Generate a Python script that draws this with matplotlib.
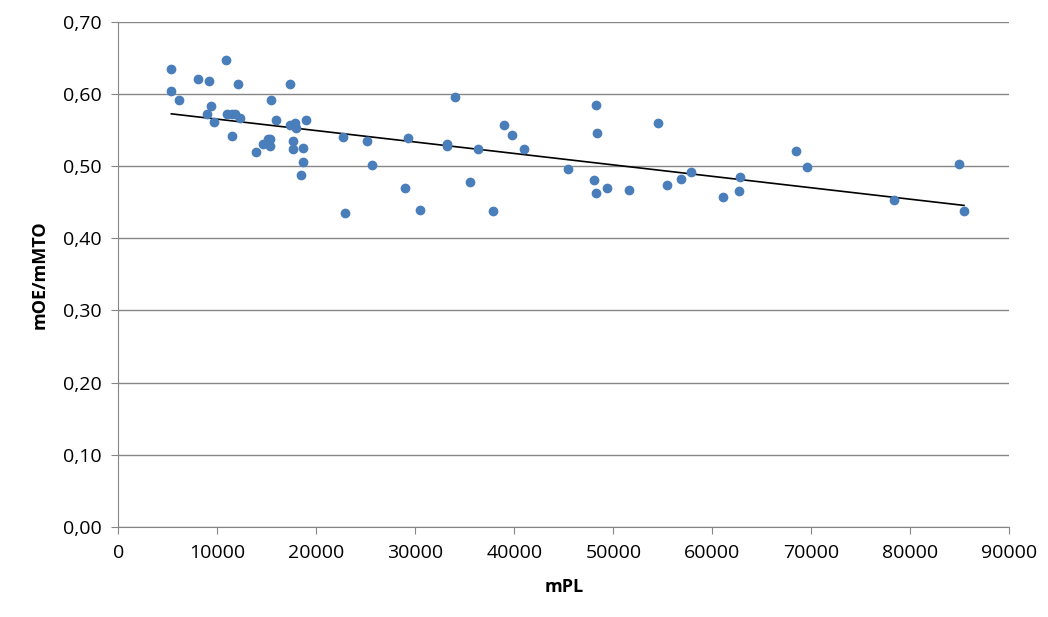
import numpy as np
import matplotlib
matplotlib.use('Agg')
import matplotlib.pyplot as plt
from matplotlib.ticker import FuncFormatter

plt.rcParams['font.family'] = ['Open Sans', 'DejaVu Sans']

mpl_vals = [5350, 5350, 6150, 8070, 9190, 8970, 9390, 9690, 10900, 10980,
            11490, 11490, 11800, 12100, 12300, 13910, 14630, 15130, 15360, 15360,
            15460, 15970, 17290, 17290, 17590, 17590, 17800, 17900, 18610, 18610,
            18410, 18920, 22680, 22880, 25120, 25630, 28980, 29290, 30510, 33150,
            33150, 33970, 35490, 36310, 37830, 38950, 39760, 40990, 45460, 48000,
            48210, 48310, 48210, 49320, 51560, 54510, 55430, 56850, 57870, 61120,
            62650, 62750, 68440, 69560, 78310, 84920, 85430]
ratio_vals = [0.635, 0.604, 0.592, 0.620, 0.618, 0.572, 0.583, 0.561, 0.647, 0.572,
              0.572, 0.542, 0.572, 0.613, 0.566, 0.520, 0.531, 0.538, 0.538, 0.528,
              0.592, 0.564, 0.613, 0.557, 0.534, 0.524, 0.560, 0.553, 0.525, 0.506,
              0.487, 0.563, 0.540, 0.435, 0.534, 0.502, 0.470, 0.539, 0.439, 0.531,
              0.528, 0.596, 0.478, 0.524, 0.438, 0.557, 0.543, 0.523, 0.496, 0.480,
              0.585, 0.545, 0.462, 0.469, 0.467, 0.560, 0.474, 0.482, 0.491, 0.457,
              0.466, 0.485, 0.521, 0.498, 0.453, 0.503, 0.437]

x = np.array(mpl_vals)
y = np.array(ratio_vals)

fig, ax = plt.subplots(figsize=(10.48, 6.17), dpi=100)
fig.subplots_adjust(left=0.113, right=0.963, top=0.965, bottom=0.146)

ax.scatter(x, y, s=36, color='#4a7ebb', zorder=3)
k, b = np.polyfit(x, y, 1)
xs = np.array([x.min(), x.max()])
ax.plot(xs, k * xs + b, color='black', lw=1.2, zorder=2)

ax.set_xlim(0, 90000)
ax.set_ylim(0, 0.70)
ax.set_xticks(np.arange(0, 90001, 10000))
ax.set_yticks(np.arange(0, 0.701, 0.1))
ax.yaxis.set_major_formatter(FuncFormatter(lambda v, p: f'{v:.2f}'.replace('.', ',')))
ax.grid(axis='y', color='#868686', lw=1)
ax.set_axisbelow(True)
for s in ['top', 'right']:
    ax.spines[s].set_visible(False)
for s in ['left', 'bottom']:
    ax.spines[s].set_color('#868686')
ax.tick_params(colors='#868686', labelcolor='black', labelsize=14, length=5, pad=7)
ax.set_xlabel('mPL', fontsize=13, fontweight='bold', labelpad=12)
ax.set_ylabel('mOE/mMTO', fontsize=13, fontweight='bold', labelpad=10)

fig.savefig('out.png')
